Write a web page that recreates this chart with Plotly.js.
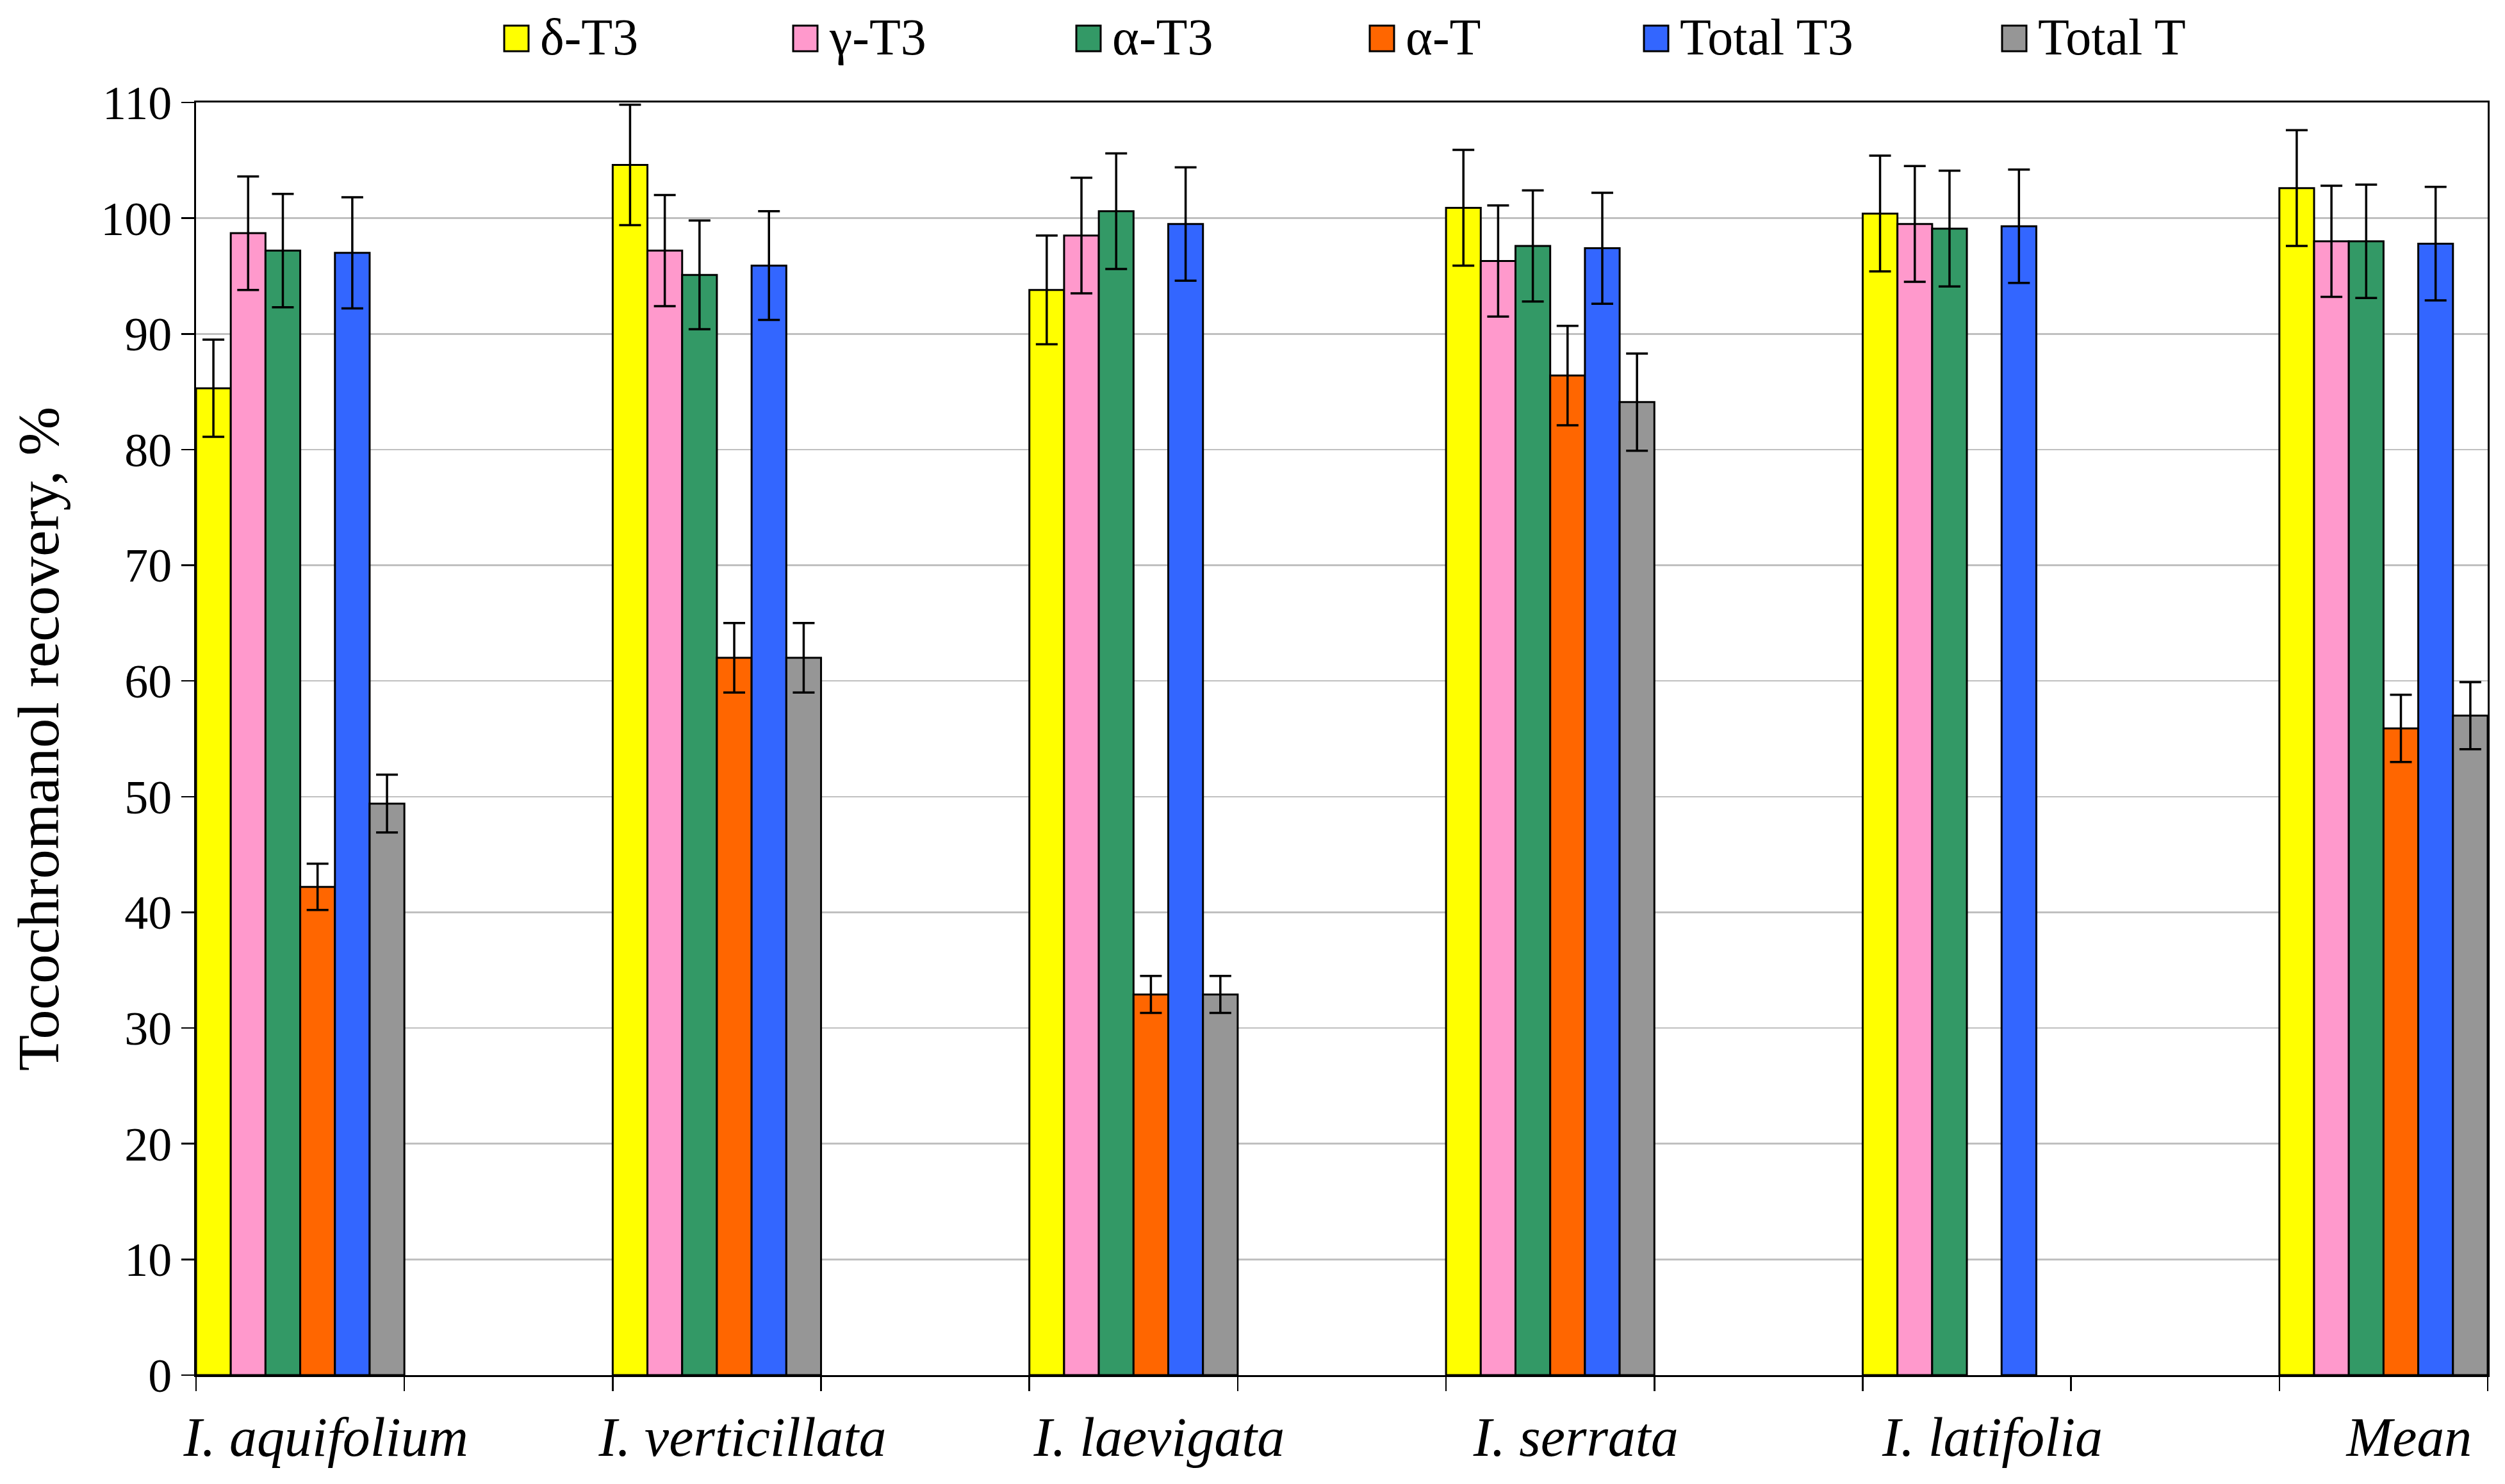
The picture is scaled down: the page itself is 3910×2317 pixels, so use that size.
<!DOCTYPE html>
<html>
<head>
<meta charset="utf-8">
<script src="https://cdn.plot.ly/plotly-3.0.1.min.js"></script>
<style>
html, body { margin: 0; padding: 0; background: #fff; }
#myDiv { width: 3910px; height: 2317px; }
</style>
</head>
<body>
<div id="myDiv"></div>
<script>
// species groups and series
var groups = ['I. aquifolium', 'I. verticillata', 'I. laevigata', 'I. serrata', 'I. latifolia', 'Mean'];
var seriesNames = ['δ-T3', 'γ-T3', 'α-T3', 'α-T', 'Total T3', 'Total T'];

var deltaT3 = [85.3, 104.6, 93.8, 100.9, 100.4, 102.6];
var deltaT3Err = [4.2, 5.2, 4.7, 5.0, 5.0, 5.0];
var gammaT3 = [98.7, 97.2, 98.5, 96.3, 99.5, 98.0];
var gammaT3Err = [4.9, 4.8, 5.0, 4.8, 5.0, 4.8];
var alphaT3 = [97.2, 95.1, 100.6, 97.6, 99.1, 98.0];
var alphaT3Err = [4.9, 4.7, 5.0, 4.8, 5.0, 4.9];
var alphaT = [42.2, 62.0, 32.9, 86.4, null, 55.9];
var alphaTErr = [2.0, 3.0, 1.6, 4.3, null, 2.9];
var totalT3 = [97.0, 95.9, 99.5, 97.4, 99.3, 97.8];
var totalT3Err = [4.8, 4.7, 4.9, 4.8, 4.9, 4.9];
var totalT = [49.4, 62.0, 32.9, 84.1, null, 57.0];
var totalTErr = [2.5, 3.0, 1.6, 4.2, null, 2.9];

var colors = ['#FFFF00', '#FF99CC', '#339966', '#FF6600', '#3366FF', '#969696'];
var values = [deltaT3, gammaT3, alphaT3, alphaT, totalT3, totalT];
var errors = [deltaT3Err, gammaT3Err, alphaT3Err, alphaTErr, totalT3Err, totalTErr];

var serif = 'Liberation Serif, DejaVu Serif, serif';

// empty category between every species, like the original sheet
var cats = [];
for (var i = 0; i < groups.length; i++) {
  cats.push(groups[i]);
  if (i < groups.length - 1) cats.push(' '.repeat(i + 1));
}

var data = [];
for (var s = 0; s < seriesNames.length; s++) {
  data.push({
    type: 'bar',
    name: seriesNames[s],
    x: groups,
    y: values[s],
    marker: { color: colors[s], line: { color: '#000', width: 3 } },
    error_y: { type: 'data', array: errors[s], visible: true, color: '#000', thickness: 3.5, width: 17 },
    showlegend: false
  });
}

// plot box in pixels, used to place the hand-made legend
var plotL = 306, plotR = 3883, plotT = 160, plotB = 2147;
function px2x(p) { return (p - plotL) / (plotR - plotL); }
function px2y(p) { return (plotB - p) / (plotB - plotT); }

var legendLeft = [787, 1238, 1680, 2138, 2566, 3125];
var shapes = [], annotations = [];
for (var k = 0; k < seriesNames.length; k++) {
  shapes.push({
    type: 'rect', xref: 'paper', yref: 'paper',
    x0: px2x(legendLeft[k]), x1: px2x(legendLeft[k] + 38),
    y0: px2y(80), y1: px2y(40),
    fillcolor: colors[k], line: { color: '#000', width: 3 }
  });
  annotations.push({
    xref: 'paper', yref: 'paper',
    x: px2x(legendLeft[k] + 54), y: px2y(58),
    xanchor: 'left', yanchor: 'middle',
    text: seriesNames[k], showarrow: false,
    font: { family: serif, size: 80, color: '#000' }
  });
}

var layout = {
  width: 3910,
  height: 2317,
  margin: { l: plotL, r: 3910 - plotR, t: plotT, b: 2317 - plotB },
  paper_bgcolor: '#fff',
  plot_bgcolor: '#fff',
  barmode: 'group',
  bargap: 0,
  bargroupgap: 0,
  showlegend: false,
  font: { family: serif, color: '#000' },
  xaxis: {
    type: 'category',
    categoryorder: 'array',
    categoryarray: cats,
    range: [-0.5, cats.length - 0.5],
    tickson: 'boundaries',
    ticks: 'outside',
    ticklen: 22,
    tickwidth: 2.5,
    tickcolor: '#000',
    tickangle: 0,
    showgrid: false,
    showline: true,
    linecolor: '#000',
    linewidth: 3,
    mirror: true,
    ticklabelshift: 40,
    ticklabelstandoff: 20,
    tickfont: { family: serif, size: 86, style: 'italic', color: '#000' }
  },
  yaxis: {
    range: [0, 110],
    dtick: 10,
    ticks: 'outside',
    ticklen: 20,
    tickwidth: 2.5,
    tickcolor: '#000',
    showgrid: true,
    gridcolor: '#c0c0c0',
    gridwidth: 2.5,
    zeroline: false,
    showline: true,
    linecolor: '#000',
    linewidth: 3,
    mirror: true,
    tickfont: { family: serif, size: 74, color: '#000' },
    title: {
      text: 'Tocochromanol recovery, %',
      standoff: 36,
      font: { family: serif, size: 92, color: '#000' }
    }
  },
  shapes: shapes,
  annotations: annotations
};

Plotly.newPlot('myDiv', data, layout, { staticPlot: true });
</script>
</body>
</html>
